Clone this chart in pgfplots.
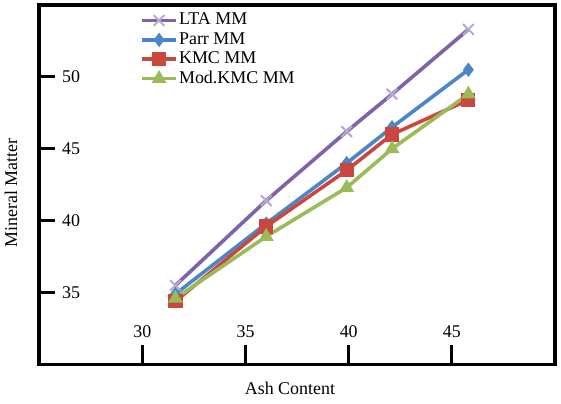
\documentclass[border=0pt]{standalone}
\usepackage{fontspec}
\setmainfont{Liberation Serif}
\usepackage{pgfplots}
\pgfplotsset{compat=1.18}
\definecolor{ltaline}{HTML}{7F62A8}
\definecolor{ltamark}{HTML}{B8A9D4}
\definecolor{parr}{HTML}{4A86C8}
\definecolor{kmc}{HTML}{C9473F}
\definecolor{mod}{HTML}{9BBB59}
\begin{document}
\begin{tikzpicture}
\begin{axis}[
  name=ax,
  scale only axis,
  width=257.85bp, height=179.75bp,
  xmin=25, xmax=50, ymin=30, ymax=55,
  xtick={30,35,40,45}, ytick={35,40,45,50},
  xtick pos=bottom, ytick pos=left,
  tick align=inside,
  axis line style={line width=1.8bp, black},
  xtick style={line width=1.6bp, black, /pgfplots/major tick length=9.5bp},
  ytick style={line width=1.6bp, black, /pgfplots/major tick length=8bp},
  font=\fontsize{9}{10.8}\selectfont,
  /pgf/number format/assume math mode=true,
  xticklabel style={anchor=center, yshift=16.4bp},
  yticklabel style={anchor=west, inner sep=0pt, xshift=11.2bp},
  xlabel={Ash Content},
  ylabel={Mineral Matter},
  xlabel style={at={(axis description cs:0.486,-0.0654)}, anchor=center},
  ylabel style={at={(axis description cs:-0.0549,0.477)}, anchor=center, rotate=0},
  legend style={draw=none, fill=none, at={(axis description cs:0.195,0.985)}, anchor=north west,
    inner sep=0pt, font=\fontsize{9}{10.8}\selectfont,
    nodes={text height=6.5bp, text depth=2bp, inner sep=0.6bp}},
  legend cell align=left,
]
\addplot[color=ltaline, line width=1.8bp, mark=x, mark size=3.8bp,
  mark options={color=ltamark, line width=1bp}] coordinates {
  (31.6,35.5) (36.0,41.4) (39.9,46.2) (42.1,48.8) (45.8,53.3)};
\addlegendentry{LTA MM}
\addplot[color=parr, line width=1.8bp, mark=diamond*, mark size=3.2bp,
  mark options={fill=parr, line width=0.5bp}] coordinates {
  (31.6,34.9) (36.0,39.8) (39.9,44.0) (42.1,46.5) (45.8,50.5)};
\addlegendentry{Parr MM}
\addplot[color=kmc, line width=1.8bp, mark=square*, mark size=3.3bp,
  mark options={fill=kmc, line width=0.5bp}] coordinates {
  (31.6,34.4) (36.0,39.6) (39.9,43.5) (42.1,46.0) (45.8,48.4)};
\addlegendentry{KMC MM}
\addplot[color=mod, line width=1.8bp, mark=triangle*, mark size=3.8bp,
  mark options={fill=mod, line width=0.5bp}] coordinates {
  (31.6,34.6) (36.0,38.9) (39.9,42.3) (42.1,45.0) (45.8,48.8)};
\addlegendentry{Mod.KMC MM}
\end{axis}
\pgfresetboundingbox
\path ([xshift=-19.65bp,yshift=-19.75bp]ax.south west) rectangle ([xshift=3bp,yshift=2.5bp]ax.north east);
\end{tikzpicture}
\end{document}
